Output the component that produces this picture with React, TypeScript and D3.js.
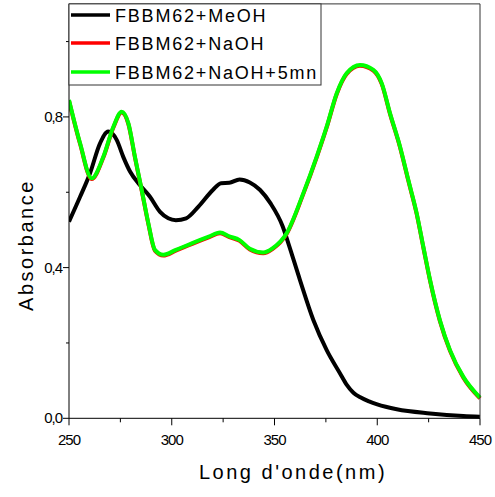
import React from "react";
import * as d3 from "d3";

const W = 495;
const H = 497;

const xMajorTicks = [250, 300, 350, 400, 450];
const xMinorTicks = [275, 325, 375, 425];
const yMajorTicks = [0, 0.4, 0.8];
const yMinorTicks = [0.2, 0.6, 1.0];

const seriesNames = ["FBBM62+MeOH", "FBBM62+NaOH", "FBBM62+NaOH+5mn"];
const seriesColors = ["#000000", "#ff0000", "#00ff00"];

const meohX = [250, 255.4, 260.2, 265.1, 269.1, 273.2, 276.4, 279.7, 284.5, 289.4, 294.3, 298.3, 302, 307, 313, 320, 324, 328, 333, 338, 343, 348, 354, 356.7, 362.4, 368.9, 375.4, 381.9, 385, 388.4, 392, 396, 400, 409.5, 425.7, 441.9, 450];
const meohY = [0.522, 0.588, 0.65, 0.73, 0.761, 0.739, 0.694, 0.655, 0.619, 0.588, 0.548, 0.531, 0.526, 0.531, 0.562, 0.606, 0.624, 0.625, 0.634, 0.626, 0.606, 0.571, 0.509, 0.465, 0.367, 0.261, 0.181, 0.119, 0.09, 0.068, 0.055, 0.045, 0.037, 0.024, 0.013, 0.006, 0.004];

const naohX = [250, 255.4, 261, 266.7, 271.6, 275.6, 278.9, 282.1, 285.4, 288.6, 291.8, 295.9, 302, 310, 318, 323.5, 328, 333, 338, 344.5, 349, 355.9, 364, 370.5, 375.4, 380.3, 385.1, 391.6, 398.1, 402.2, 406.2, 411.1, 415.1, 419.2, 422.4, 425.7, 430.5, 435.4, 441.9, 450];
const naohY = [0.843, 0.728, 0.635, 0.692, 0.772, 0.812, 0.781, 0.692, 0.604, 0.516, 0.445, 0.432, 0.445, 0.463, 0.48, 0.491, 0.481, 0.471, 0.448, 0.438, 0.449, 0.489, 0.595, 0.692, 0.772, 0.861, 0.914, 0.936, 0.923, 0.887, 0.808, 0.719, 0.631, 0.542, 0.454, 0.365, 0.258, 0.179, 0.108, 0.053];

const naoh5X = [250, 255.4, 261, 266.7, 271.6, 275.6, 278.9, 282.1, 285.4, 288.6, 291.8, 295.9, 302, 310, 318, 323.5, 328, 333, 338, 344.5, 349, 355.9, 364, 370.5, 375.4, 380.3, 385.1, 391.6, 398.1, 402.2, 406.2, 411.1, 415.1, 419.2, 422.4, 425.7, 430.5, 435.4, 441.9, 450];
const naoh5Y = [0.845, 0.73, 0.637, 0.694, 0.774, 0.814, 0.783, 0.694, 0.606, 0.518, 0.447, 0.434, 0.447, 0.465, 0.482, 0.493, 0.483, 0.473, 0.45, 0.44, 0.451, 0.491, 0.597, 0.694, 0.774, 0.863, 0.916, 0.938, 0.925, 0.889, 0.81, 0.721, 0.633, 0.544, 0.456, 0.367, 0.26, 0.181, 0.11, 0.055];

const xLabel = "Long d'onde(nm)";
const yLabel = "Absorbance";

export default function App() {
  const x = d3.scaleLinear().domain([250, 450]).range([69, 480]);
  const y = d3.scaleLinear().domain([0, 1.1]).range([418.3, 3.9]);
  const fmt = (v: number) => d3.format(".1f")(v).replace(".", ",");

  const line = d3
    .line<[number, number]>()
    .x((d) => x(d[0]))
    .y((d) => y(d[1]))
    .curve(d3.curveMonotoneX);

  const series = [
    { xs: meohX, ys: meohY },
    { xs: naohX, ys: naohY },
    { xs: naoh5X, ys: naoh5Y },
  ];

  const font = "'Liberation Sans', Arial, sans-serif";
  const x0 = x.range()[0];
  const x1 = x.range()[1];
  const y0 = y.range()[0];
  const y1 = y.range()[1];

  const legendRows = [15, 43, 72];

  return (
    <svg
      width={W}
      height={H}
      style={{ position: "absolute", left: 0, top: 0, background: "#fff" }}
      fontFamily={font}
    >
      <rect x={0} y={0} width={W} height={H} fill="#fff" />
      <defs>
        <clipPath id="plot">
          <rect x={x0} y={y1} width={x1 - x0 + 2} height={y0 - y1 + 2} />
        </clipPath>
      </defs>
      <g clipPath="url(#plot)">
        {series.map((s, i) => (
          <path
            key={i}
            d={line(s.xs.map((v, j) => [v, s.ys[j]] as [number, number])) || ""}
            fill="none"
            stroke={seriesColors[i]}
            strokeWidth={4}
            strokeLinejoin="round"
          />
        ))}
      </g>
      <line x1={x0} x2={x1} y1={y1} y2={y1} stroke="#333" strokeWidth={1} />
      <line x1={x1} x2={x1} y1={y1} y2={y0} stroke="#333" strokeWidth={1} />
      <line x1={x0} x2={x1} y1={y0} y2={y0} stroke="#000" strokeWidth={1} />
      <line x1={x0} x2={x0} y1={y1} y2={y0} stroke="#000" strokeWidth={1} />
      {xMajorTicks.map((t) => (
        <g key={"xm" + t}>
          <line x1={x(t)} x2={x(t)} y1={y0} y2={y0 + 7} stroke="#000" />
          <text x={x(t)} y={445} textAnchor="middle" fontSize={15} letterSpacing={-1} fill="#000">
            {t}
          </text>
        </g>
      ))}
      {xMinorTicks.map((t) => (
        <line key={"xn" + t} x1={x(t)} x2={x(t)} y1={y0} y2={y0 + 4} stroke="#000" />
      ))}
      {yMajorTicks.map((t) => (
        <g key={"ym" + t}>
          <line x1={x0 - 6} x2={x0} y1={y(t)} y2={y(t)} stroke="#000" />
          <text x={62} y={y(t) + 5} textAnchor="end" fontSize={15} letterSpacing={-1} fill="#000">
            {fmt(t)}
          </text>
        </g>
      ))}
      {yMinorTicks.map((t) => (
        <line key={"yn" + t} x1={x0 - 3} x2={x0} y1={y(t)} y2={y(t)} stroke="#000" />
      ))}
      <text x={293} y={479} textAnchor="middle" fontSize={20} letterSpacing={2.5} fill="#000">
        {xLabel}
      </text>
      <text
        transform={`translate(33,245) rotate(-90)`}
        textAnchor="middle"
        fontSize={20}
        letterSpacing={2.5}
        fill="#000"
      >
        {yLabel}
      </text>
      <rect x={x0} y={y1} width={321 - x0} height={85 - y1} fill="#fff" stroke="#333" strokeWidth={1} />
      {seriesNames.map((n, i) => (
        <g key={n}>
          <line x1={71} x2={110} y1={legendRows[i]} y2={legendRows[i]} stroke={seriesColors[i]} strokeWidth={3.5} />
          <text x={115} y={legendRows[i] + 7} fontSize={18} letterSpacing={1.8} fill="#000">
            {n}
          </text>
        </g>
      ))}
    </svg>
  );
}
